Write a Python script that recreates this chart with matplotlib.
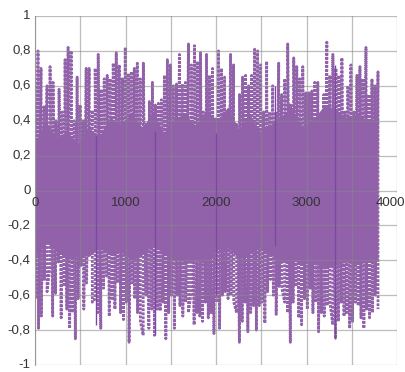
import matplotlib
matplotlib.use('Agg')
import matplotlib.pyplot as plt
import numpy as np

# peak values, left to right
upper = [0.62, 0.80, 0.70, 0.48, 0.60, 0.71, 0.62, 0.40, 0.58, 0.45,
         0.75, 0.82, 0.80, 0.40, 0.65, 0.49, 0.40, 0.70, 0.70, 0.46,
         0.70, 0.78, 0.58, 0.64, 0.66, 0.64, 0.73, 0.79, 0.72, 0.64,
         0.82, 0.67, 0.68, 0.70,
         0.73, 0.64, 0.73, 0.38, 0.51, 0.62, 0.49, 0.50, 0.52, 0.66,
         0.75, 0.72, 0.60, 0.61, 0.78, 0.61, 0.62, 0.84, 0.72, 0.83,
         0.74, 0.79, 0.45, 0.78, 0.66, 0.70, 0.41, 0.80, 0.70, 0.65,
         0.38, 0.78, 0.72, 0.38, 0.55, 0.65, 0.66, 0.60, 0.66, 0.81,
         0.80, 0.72, 0.45, 0.74, 0.45, 0.60, 0.45, 0.73, 0.55, 0.64,
         0.84, 0.49, 0.76, 0.71, 0.64, 0.71, 0.56, 0.56, 0.57, 0.62,
         0.62, 0.43, 0.55, 0.85, 0.66, 0.78, 0.70, 0.66, 0.76, 0.45,
         0.60, 0.72, 0.45, 0.66, 0.71, 0.64, 0.82, 0.55, 0.64, 0.60,
         0.68]

lower = [-0.62, -0.79, -0.72, -0.51, -0.58, -0.44, -0.72, -0.59, -0.41, -0.73,
         -0.54, -0.68, -0.79, -0.70, -0.85, -0.62, -0.43, -0.68, -0.53, -0.31,
         -0.64, -0.62, -0.70, -0.79, -0.56, -0.49, -0.72, -0.62, -0.68, -0.53,
         -0.70, -0.74, -0.64, -0.87, -0.53, -0.62, -0.70, -0.75, -0.83, -0.60,
         -0.79,
         -0.68, -0.83, -0.68, -0.69, -0.64, -0.85, -0.70, -0.60, -0.79, -0.60,
         -0.66, -0.72, -0.64, -0.70, -0.58, -0.77, -0.70, -0.72, -0.75, -0.64,
         -0.73, -0.70, -0.82, -0.64, -0.79, -0.60, -0.58, -0.62, -0.60, -0.64,
         -0.70, -0.87, -0.75, -0.64, -0.81, -0.70, -0.66, -0.80, -0.66, -0.64,
         -0.76, -0.58, -0.51, -0.60, -0.71, -0.55, -0.56, -0.64, -0.70, -0.87,
         -0.64, -0.55, -0.73, -0.77, -0.62, -0.68, -0.56, -0.70, -0.64, -0.81,
         -0.70, -0.72, -0.66, -0.64, -0.77, -0.85, -0.75, -0.64, -0.72, -0.70,
         -0.79, -0.75, -0.64, -0.66, -0.73, -0.79, -0.68, -0.73, -0.70, -0.60,
         -0.68]

# edges of the densely covered core of the trace
core_top = [0.28, 0.40, 0.30, 0.34, 0.27, 0.36, 0.31, 0.42, 0.38, 0.44,
            0.36, 0.45, 0.33, 0.41, 0.44, 0.37, 0.46, 0.40, 0.48, 0.35,
            0.44, 0.34, 0.38, 0.43, 0.46, 0.36, 0.41, 0.49, 0.47, 0.42,
            0.44, 0.40, 0.38]
core_bot = [-0.38, -0.30, -0.34, -0.40, -0.36, -0.38, -0.33, -0.36, -0.35, -0.40,
            -0.37, -0.31, -0.36, -0.39, -0.41, -0.40, -0.42, -0.34, -0.33, -0.39,
            -0.36, -0.33, -0.37, -0.41, -0.40, -0.42, -0.41, -0.45, -0.43, -0.41,
            -0.42, -0.41, -0.40]

# solid dark streaks in the trace
dark_x = [674, 1326, 2000, 2652, 3315]
dark_top = [0.31, 0.34, 0.33, 0.60, 0.72]
dark_bot = [-0.77, -0.83, -0.60, -0.32, -0.85]

x_end = 3790
x_ticks = [0, 1000, 2000, 3000, 4000]
y_ticks = [1, 0.8, 0.6, 0.4, 0.2, 0, -0.2, -0.4, -0.6, -0.8, -1]

# merge the two envelopes into one zig-zag trace
xu = np.linspace(0, x_end, len(upper))
xl = np.linspace(8, x_end, len(lower))
xs = np.concatenate([xu, xl])
ys = np.concatenate([upper, lower])
order = np.argsort(xs, kind='stable')
xs, ys = xs[order], ys[order]
xc = np.linspace(0, x_end, len(core_top))

plt.rcParams['font.family'] = ['Liberation Sans Narrow', 'Liberation Sans', 'DejaVu Sans']

fig = plt.figure(figsize=(4.05, 3.72), dpi=100)
ax = fig.add_axes([35/405, 7/372, 362/405, 349/372])

purple = '#9162aa'
ax.fill_between(xc, core_bot, core_top, color=purple, lw=0, zorder=2)
ax.plot(xs, ys, color=purple, lw=2.0, ls=(0, (1, 0.45)), zorder=2)
ax.vlines(dark_x, dark_bot, dark_top, color='#8048a2', lw=1.0, zorder=3)

ax.set_xlim(0, 4000)
ax.set_ylim(-1, 1)
ax.set_xticks(np.arange(0, 4001, 500))
ax.set_yticks(np.arange(-1, 1.01, 0.2))
ax.grid(True, color='#888888', lw=0.9, alpha=0.55, zorder=4)
ax.set_axisbelow(False)

for s in ['top', 'right', 'bottom']:
    ax.spines[s].set_visible(False)
ax.spines['left'].set_color('#aaaaaa')
ax.tick_params(length=0, labelbottom=False, labelleft=False)

for v in y_ticks:
    lab = ('%g' % v).replace('.', ',')
    ax.text(-0.012, (v + 1) / 2, lab, transform=ax.transAxes, ha='right',
            va='center', fontsize=9.5, color='#333333')
for v in x_ticks:
    if v == 4000:
        ax.annotate(str(v), (v, 0), xytext=(6, -5), textcoords='offset points',
                    ha='right', va='top', fontsize=9.5, color='#333333')
    else:
        ax.annotate(str(v), (v, 0), xytext=(0, -5), textcoords='offset points',
                    ha='center', va='top', fontsize=9.5, color='#333333', zorder=5)

fig.savefig('out.png', dpi=100)
